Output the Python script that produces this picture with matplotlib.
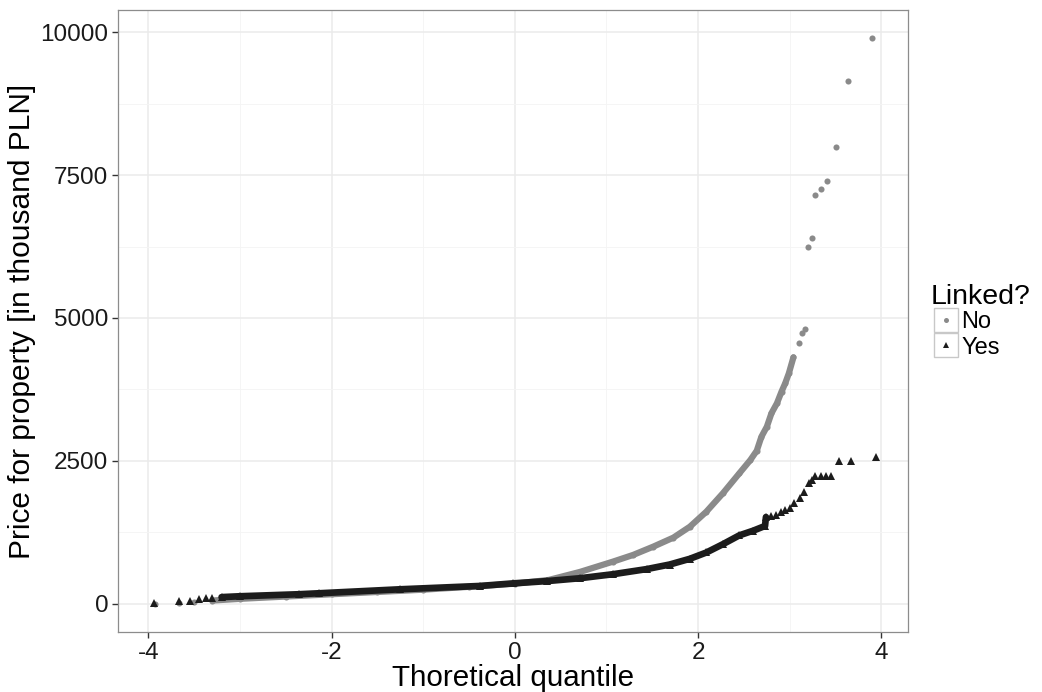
import numpy as np
import matplotlib.pyplot as plt
from matplotlib.lines import Line2D
from matplotlib.patches import Rectangle

plt.rcParams['font.family'] = ['Liberation Sans', 'DejaVu Sans']
plt.rcParams['axes.unicode_minus'] = False

# values (theoretical quantile, price in thousand PLN)
no_q = [-3.93, -3.66, -3.50, -3.30, -3.00, -2.50, -2.00, -1.50, -1.00, -0.50,
        0.00, 0.37, 0.71, 1.07, 1.29, 1.51, 1.73, 1.91, 2.09, 2.27,
        2.45, 2.57, 2.64, 2.69, 2.75, 2.80, 2.86, 2.91, 2.95, 2.99,
        3.04, 3.10, 3.13, 3.17, 3.20, 3.24, 3.28, 3.34, 3.41, 3.50,
        3.63, 3.90]
no_price = [0, 20, 40, 60, 90, 130, 170, 210, 250, 300,
            355, 420, 560, 740, 857, 1002, 1160, 1351, 1614, 1935,
            2285, 2517, 2680, 2922, 3100, 3334, 3509, 3712, 3858, 4033,
            4313, 4558, 4743, 4802, 6236, 6400, 7150, 7250, 7395, 7995,
            9143, 9900]

yes_q = [-3.94, -3.66, -3.54, -3.45, -3.37, -3.30, -3.20, -3.00, -2.36, -2.14,
         -1.25, -0.38, -0.02, 0.35, 0.71, 1.07, 1.44, 1.69, 1.91, 2.09,
         2.27, 2.45, 2.60, 2.73, 2.74, 2.80, 2.85, 2.90, 2.95, 3.00,
         3.05, 3.11, 3.16, 3.21, 3.24, 3.28, 3.34, 3.39, 3.45, 3.54,
         3.67, 3.94]
yes_price = [23, 58, 58, 82, 100, 110, 120, 135, 170, 187,
             257, 315, 360, 400, 450, 520, 610, 690, 790, 900,
             1045, 1200, 1281, 1364, 1520, 1535, 1556, 1600, 1640, 1673,
             1760, 1847, 1963, 2110, 2168, 2238, 2238, 2238, 2238, 2505,
             2505, 2575]

legend_title = 'Linked?'
legend_labels = ['No', 'Yes']

gray = '#8a8a8a'
black = '#1c1c1c'
W, H = 1042, 692

fig = plt.figure(figsize=(W / 100, H / 100), dpi=100)
ax = fig.add_axes([118 / W, 60 / H, 790 / W, 622 / H])

no_q = np.array(no_q)
no_price = np.array(no_price)
yes_q = np.array(yes_q)
yes_price = np.array(yes_price)

# dense middle part: points overlap into a solid band
m = (no_q >= -3.3) & (no_q <= 3.04)
ax.plot(no_q[m], no_price[m], color=gray, lw=4.5, solid_capstyle='round', zorder=2)
ax.plot(no_q, no_price, 'o', color=gray, ms=4.4, mew=0, zorder=2)

m = (yes_q >= -3.2) & (yes_q <= 2.74)
ax.plot(yes_q[m], yes_price[m], color=black, lw=4.8, solid_capstyle='round', zorder=3)
ax.plot(yes_q, yes_price, '^', color=black, ms=6, mew=0, zorder=3)

ax.set_xlim(-4.33, 4.29)
ax.set_ylim(-490, 10385)
ax.set_xticks([-4, -2, 0, 2, 4])
ax.set_xticks([-3, -1, 1, 3], minor=True)
ax.set_yticks([0, 2500, 5000, 7500, 10000])
ax.set_yticks([1250, 3750, 6250, 8750], minor=True)
ax.grid(which='major', color='#ebebeb', lw=1.1, zorder=0)
ax.grid(which='minor', color='#f4f4f4', lw=0.6, zorder=0)
ax.set_axisbelow(True)
for s in ax.spines.values():
    s.set_color('#8c8c8c')
    s.set_linewidth(0.9)
ax.tick_params(which='major', length=4, width=1, color='#333333',
               labelsize=17.5, labelcolor='#1a1a1a', pad=3)
ax.tick_params(which='minor', length=0)
ax.set_xlabel('Thoretical quantile', fontsize=21.3, labelpad=0)
ax.set_ylabel('Price for property [in thousand PLN]', fontsize=21.5, labelpad=3)

# legend drawn by hand, ggplot style (grey bordered keys stacked)
def fx(px):
    return px / W

def fy(px):
    return 1 - px / H

fig.text(fx(931), fy(304), legend_title, fontsize=20.5, va='baseline', ha='left')
keys = [('o', gray, 3.6), ('^', black, 4.6)]
for i, (lab, (mk, col, ms)) in enumerate(zip(legend_labels, keys)):
    top = 308 + i * 25
    fig.add_artist(Rectangle((fx(934), fy(top + 24)), 24 / W, 24 / H, fc='white',
                             ec='#c8c8c8', lw=1, transform=fig.transFigure))
    fig.add_artist(Line2D([fx(946)], [fy(top + 12)], ls='', marker=mk, color=col,
                          ms=ms, mew=0, transform=fig.transFigure))
    fig.text(fx(961), fy(top + 12), lab, fontsize=17, va='center_baseline', ha='left')

fig.savefig('out.png', dpi=100)
